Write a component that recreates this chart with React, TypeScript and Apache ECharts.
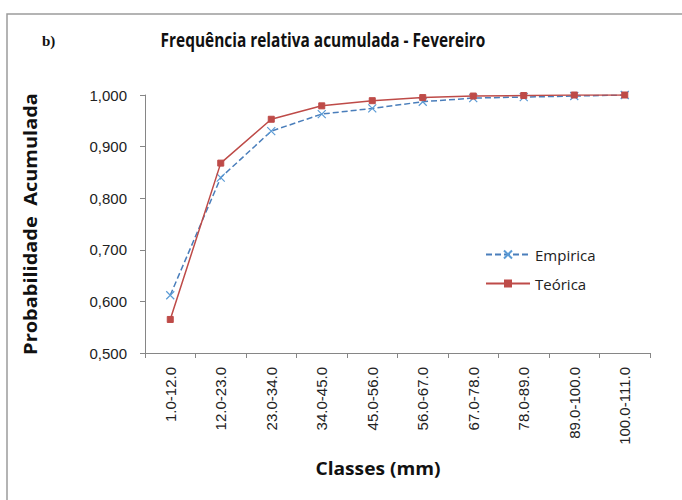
import React, { useEffect, useRef } from "react";
import * as echarts from "echarts";

const categories = [
  "1.0-12.0",
  "12.0-23.0",
  "23.0-34.0",
  "34.0-45.0",
  "45.0-56.0",
  "56.0-67.0",
  "67.0-78.0",
  "78.0-89.0",
  "89.0-100.0",
  "100.0-111.0",
];
const empirica = [0.612, 0.84, 0.93, 0.963, 0.974, 0.987, 0.994, 0.996, 0.998, 1.0];
const teorica = [0.565, 0.868, 0.953, 0.979, 0.989, 0.995, 0.998, 0.999, 1.0, 1.0];
const yMin = 0.5;
const yMax = 1.0;
const yStep = 0.1;

const titleText = "Frequência relativa acumulada - Fevereiro";
const panelLabel = "b)";
const xTitle = "Classes (mm)";
const yTitle = "Probabilidade  Acumulada";

const SANS_BOLD = "'Open Sans', 'Noto Sans', sans-serif";

function fitScale(text: string, font: string, target: number): number {
  const c = document.createElement("canvas").getContext("2d");
  if (!c) return 1;
  c.font = font;
  const w = c.measureText(text).width;
  return w > 0 ? target / w : 1;
}

export default function App() {
  const ref = useRef<HTMLDivElement>(null);
  useEffect(() => {
    if (!ref.current) return;
    const chart = echarts.init(ref.current, undefined, { renderer: "svg" });
    const titleFont = `bold 19px ${SANS_BOLD}`;
    const xTitleFont = `bold 18px ${SANS_BOLD}`;
    const yTitleFont = `bold 18px ${SANS_BOLD}`;
    const titleScale = fitScale(titleText, titleFont, 325);
    const xTitleScale = fitScale(xTitle, xTitleFont, 125);
    const yTitleScale = fitScale(yTitle, yTitleFont, 262);
    chart.setOption({
      animation: false,
      backgroundColor: "#ffffff",
      grid: { left: 145, right: 32, top: 95, bottom: 147 },
      graphic: [
        {
          type: "rect",
          shape: { x: 7, y: 14, width: 700, height: 520 },
          style: { fill: "none", stroke: "#9c9c9c", lineWidth: 1.5 },
          silent: true,
        },
        {
          type: "text",
          x: 42,
          y: 41,
          style: {
            text: panelLabel,
            font: "bold 15px 'Liberation Serif', 'DejaVu Serif', serif",
            fill: "#111",
            verticalAlign: "middle",
          },
        },
        {
          type: "text",
          x: 323,
          y: 40,
          scaleX: titleScale,
          style: {
            text: titleText,
            font: titleFont,
            fill: "#111",
            align: "center",
            verticalAlign: "middle",
          },
        },
        {
          type: "text",
          x: 378,
          y: 468,
          scaleX: xTitleScale,
          style: {
            text: xTitle,
            font: xTitleFont,
            fill: "#111",
            align: "center",
            verticalAlign: "middle",
          },
        },
        {
          type: "text",
          x: 30,
          y: 224,
          rotation: Math.PI / 2,
          scaleX: yTitleScale,
          style: {
            text: yTitle,
            font: yTitleFont,
            fill: "#111",
            align: "center",
            verticalAlign: "middle",
          },
        },
      ],
      legend: {
        orient: "vertical",
        left: 480,
        top: 242,
        itemGap: 14,
        itemWidth: 44,
        itemHeight: 10,
        textStyle: {
          fontFamily: "'Open Sans', 'Noto Sans', sans-serif",
          fontSize: 15,
          color: "#222",
        },
        data: ["Empirica", "Teórica"],
      },
      xAxis: {
        type: "category",
        data: categories,
        boundaryGap: true,
        axisLine: { lineStyle: { color: "#868686", width: 1 } },
        axisTick: { show: true, length: 5, lineStyle: { color: "#868686" } },
        axisLabel: {
          rotate: 90,
          margin: 14,
          fontFamily: "'Liberation Sans', Arial, sans-serif",
          fontSize: 15,
          color: "#222",
          interval: 0,
        },
        splitLine: { show: false },
      },
      yAxis: {
        type: "value",
        min: yMin,
        max: yMax,
        interval: yStep,
        axisLine: { show: true, lineStyle: { color: "#868686", width: 1 } },
        axisTick: { show: true, length: 5, lineStyle: { color: "#868686" } },
        axisLabel: {
          margin: 18,
          fontFamily: "'Liberation Sans', Arial, sans-serif",
          fontSize: 15,
          color: "#222",
          formatter: (v: number) => v.toFixed(3).replace(".", ","),
        },
        splitLine: { show: false },
      },
      series: [
        {
          name: "Empirica",
          type: "line",
          data: empirica,
          symbol: "path://M0,0L10,10M10,0L0,10",
          symbolSize: 8,
          showSymbol: true,
          lineStyle: { color: "#4a7ebb", width: 1.5, type: [6, 3] },
          itemStyle: { color: "none", borderColor: "#5b9bd5", borderWidth: 1.2 },
          z: 2,
        },
        {
          name: "Teórica",
          type: "line",
          data: teorica,
          symbol: "rect",
          symbolSize: 6,
          showSymbol: true,
          lineStyle: { color: "#be4b48", width: 1.5 },
          itemStyle: { color: "#be4b48", borderColor: "#be4b48" },
          z: 3,
        },
      ],
    });
    return () => chart.dispose();
  }, []);
  return (
    <div
      ref={ref}
      style={{ position: "absolute", left: 0, top: 0, width: 682, height: 500 }}
    />
  );
}
